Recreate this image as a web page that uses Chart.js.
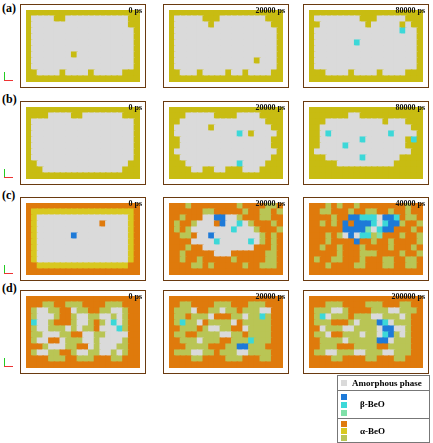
<!DOCTYPE html>
<html>
<head>
<meta charset="utf-8">
<script src="https://cdn.jsdelivr.net/npm/chart.js@4"></script>
<style>
  body { margin: 0; background: #fff; font-family: "Liberation Serif", serif; }
  #wrap { position: relative; width: 433px; height: 443px; }
  .panel { position: absolute; width: 126px; height: 84px; border: 1px solid #6a3a10; box-sizing: border-box; overflow: hidden; }
  .panel canvas { display: block; }
  .time { position: absolute; right: 3px; top: 1px; font-weight: bold; font-size: 8px; color: #111; }
  .lab { position: absolute; font-weight: bold; font-size: 12px; }
  .ax { position: absolute; left: 4px; }
  .ax .v { position: absolute; left: 0; top: 0; width: 1px; height: 8px; background: #2c2; }
  .ax .h { position: absolute; left: 0; top: 8px; width: 9px; height: 1px; background: #e33; }
  #legend { position: absolute; left: 337px; top: 375px; width: 91px; height: 66px; border: 1px solid #777; font-size: 9px; font-weight: bold; }
  .sw { position: absolute; width: 6px; height: 6px; }
</style>
</head>
<body>
<div id="wrap"></div>
<script>
// phase codes per cell: g amorphous, y/l/o alpha-BeO, b/c/m beta-BeO
const colors = { g: '#dadada', y: '#c8bc12', Y: '#d8c820', l: '#b9c555', o: '#df7a0c', b: '#1e7ad8', c: '#3cd8d8', m: '#7fe0a8' };
const rowLabels = ['(a)', '(b)', '(c)', '(d)'];
const times = [['0 ps', '20000 ps', '80000 ps'], ['0 ps', '20000 ps', '80000 ps'], ['0 ps', '20000 ps', '40000 ps'], ['0 ps', '20000 ps', '200000 ps']];
const background = ['y', 'y', 'o', 'o'];

const maps = [
  [
    ["yyyyyyyyyyyyyyyyyyyy","yggggyygggggggggggyy","ygggggggggggggggggyy","yggggggggggggggggggy","yggggggggggggggggggy","yggggggggggggggggggy","yggggggggggggggggggy","ygggggggyggggggggggy","yggggggggggggggggggy","yggggggggggggggggggy","yyggggyggggygggggyyy","yyyyyyyyyyyyyyyyyyyy"],
    ["yyyyyyyyyyyyyyyyyyyy","ygggggyyyggggggggyyy","yggggggyggggggggggyy","yggggggggggggggggggy","yggggggggggggggggggy","yggggggggggggggggggy","yggggggggggggggggggy","yggggggggggggggggggy","yggggggggggggggygggy","yggggggggggggggggggy","yygggyggggyggyggggyy","yyyyyyyyyyyyyyyyyyyy"],
    ["yyyyyyyyyyyyyyyyyyyy","yggggggggyyygggggyyy","yyggggggggygggggygyy","ygggggggggggggggcggy","yggggggggggggggggggy","ygggggggcggggggggggy","yggggggggggggggggggy","yggggggggggggggggggy","yggggggggggggggggggy","yggggggggggggggggggy","yyyggggyggggyggggyyy","yyyyyyyyyyyyyyyyyyyy"]
  ],
  [
    ["yyyyyyyyyyyyyyyyyyyy","yyyyggggyygggggggyyy","yggggggggggggggggggy","yggggggggggggggggggy","yggggggggggggggggggy","yggggggggggggggggggy","yggggggggggggggggggy","yggggggggggggggggggy","yggggggggggggggggggy","yyggggggggggggggggyy","yyyggggggggggggggyyy","yyyyyyyyyyyyyyyyyyyy"],
    ["yyyyyyyyyyyyyyyyyyyy","yyygggggyyyyggggyyyy","yygggggggggggggggyyy","yggggggyggggggggggyy","ygggggggggggcgyggggy","yyggggggggggggggggyy","yyggggggggggggggggyy","yggggggggggggggggggy","yyggggggggggggggggyy","yyygggggggggcggggyyy","yyyyggyyggyyygggyyyy","yyyyyyyyyyyyyyyyyyyy"],
    ["yyyyyyyyyyyyyyyyyyyy","yyyyyyyggyyyyyyyyyyy","yyyggggggggggygggyyy","yyggggggggggggggggyy","yygcggggggggggcggggy","yygggggggcgggggggycy","yyggggcggggggggggyyy","ygggggggggggggggggyy","yyyggggggcggggggyyyy","yyyyyggggggggggyyyyy","yyyyyyyyyyyyyyyyyyyy","yyyyyyyyyyyyyyyyyyyy"]
  ],
  [
    ["oooooooooooooooooooo","oYYYYYYYYYYYYYYYYYYo","oYggggggggggggggggYo","oYgggggggggggoggggYo","oYggggggggggggggggYo","oYggggggbgggggggggYo","oYggggggggggggggggYo","oYggggggggggggggggYo","oYggggggggggggggggYo","oYggggggggggggggggYo","ooYYYYYYYYYYYYYYYYoo","oooooooooooooooooooo"],
    ["ooolooooooooloooolloo","oooooolloooooloollol","ooloooggbbgglooolloo","oloolgggobggcglooolo","ololgggggggcggglooolo","oolloggbggggggggloloo","ooooggggcgggggcgloloo","oooloogggggggggoooloo","oolooooogggoooooolloo","ooloolooooolooooollo","oooolloloooooloolllo","oooooooooooooooooooo"],
    ["ooololooloooooooolooo","oolloooloollooloolooo","ooooloobbcccgbbcolloo","oololobobbbcgcbbloolo","oooooobbbbmgcbboooloo","ooololgbgcclmoooloolo","ooolooooboolooloooolo","oolooloooloooolooolo","ooooolooolllooooloolo","oloollooolooolloollo","oooloooollooolloollo","oooooooooooooooooooo"]
  ],
  [
    ["oooooooooooooooooooo","ooolloollloooolllooo","olggllooglloollggloo","olgggloolggllgglgloo","ocgglooolgglolgcgloo","olgglllglgllogggcloo","ollgggllooggllggggoo","olggooglllgglggggloo","ooolgggllooglggglloo","olgglloolggllgglgloo","oooollloolllooollooo","oooooooooooooooooooo"],
    ["oooooooooooooooooooo","oolloooolllooolllooo","olllgoollgllolllggoo","ollolllgooollgllcloo","olcllgollllgollllloo","oolllolggllooglllloo","olloollllggllolllloo","oolllgllloolllclllo","ooollllooollbbllloo","olllggllolllgglllloo","oooolloooolllooollo","oooooooooooooooooooo"],
    ["oooooooooooooooooooo","ooollloooolllooolloo","olllggloooolllgglllo","olcglllolllgglllgloo","olllooolglllbcgllloo","ooglllggllllgbbggloo","ollgoolllgllgcblgloo","oollllglllllbbglllo","oolllooolllloolllloo","ollgglllgglllgglllo","oooolloooollooollooo","oooooooooooooooooooo"]
  ]
];

const COLS = 20, ROWS = 12;
const colLeft = [20, 163, 303];
const rowTop = [4, 101, 197, 290];
const wrap = document.getElementById('wrap');

function buildPoints(map, bg) {
  const pts = [], cols = [];
  for (let r = 0; r < ROWS; r++) {
    let line = (map[r] || '').slice(0, COLS).padEnd(COLS, bg);
    for (let c = 0; c < COLS; c++) {
      pts.push({ x: c, y: ROWS - 1 - r });
      cols.push(colors[line[c]] || colors[bg]);
    }
  }
  return { pts, cols };
}

rowLabels.forEach((lab, ri) => {
  const l = document.createElement('div');
  l.className = 'lab'; l.textContent = lab;
  l.style.left = '2px'; l.style.top = (rowTop[ri] - (ri === 0 ? 3 : 9)) + 'px';
  wrap.appendChild(l);
  const ax = document.createElement('div');
  ax.className = 'ax'; ax.style.top = (rowTop[ri] + 68) + 'px';
  ax.innerHTML = '<div class="v"></div><div class="h"></div>';
  wrap.appendChild(ax);

  colLeft.forEach((x0, ci) => {
    const p = document.createElement('div');
    p.className = 'panel';
    p.style.left = x0 + 'px'; p.style.top = rowTop[ri] + 'px';
    const cv = document.createElement('canvas');
    cv.width = 124; cv.height = 82;
    p.appendChild(cv);
    const t = document.createElement('div');
    t.className = 'time'; t.textContent = times[ri][ci];
    p.appendChild(t);
    wrap.appendChild(p);

    const { pts, cols } = buildPoints(maps[ri][ci], background[ri]);
    new Chart(cv.getContext('2d'), {
      type: 'scatter',
      data: { datasets: [{ data: pts, pointStyle: 'rect', pointRadius: 5, pointBorderWidth: 0, backgroundColor: cols, borderColor: cols }] },
      options: {
        responsive: false, animation: false,
        layout: { padding: 0 },
        plugins: { legend: { display: false }, tooltip: { enabled: false } },
        scales: {
          x: { display: false, min: -0.5, max: COLS - 0.5 },
          y: { display: false, min: -0.5, max: ROWS - 0.5 }
        }
      }
    });
  });
});

// legend
const lg = document.createElement('div');
lg.id = 'legend';
lg.innerHTML =
  '<div class="sw" style="left:3px;top:4px;background:' + colors.g + '"></div>' +
  '<div style="position:absolute;left:14px;top:2px">Amorphous phase</div>' +
  '<div style="position:absolute;left:0;top:14px;width:91px;border-top:1px solid #777"></div>' +
  '<div class="sw" style="left:3px;top:18px;background:' + colors.b + '"></div>' +
  '<div class="sw" style="left:3px;top:26px;background:' + colors.c + '"></div>' +
  '<div class="sw" style="left:3px;top:34px;background:' + colors.m + '"></div>' +
  '<div style="position:absolute;left:22px;top:23px">β-BeO</div>' +
  '<div style="position:absolute;left:0;top:42px;width:91px;border-top:1px solid #777"></div>' +
  '<div class="sw" style="left:3px;top:45px;background:' + colors.o + '"></div>' +
  '<div class="sw" style="left:3px;top:52px;background:' + colors.Y + '"></div>' +
  '<div class="sw" style="left:3px;top:59px;background:' + colors.l + '"></div>' +
  '<div style="position:absolute;left:22px;top:50px">α-BeO</div>';
wrap.appendChild(lg);
</script>
</body>
</html>
